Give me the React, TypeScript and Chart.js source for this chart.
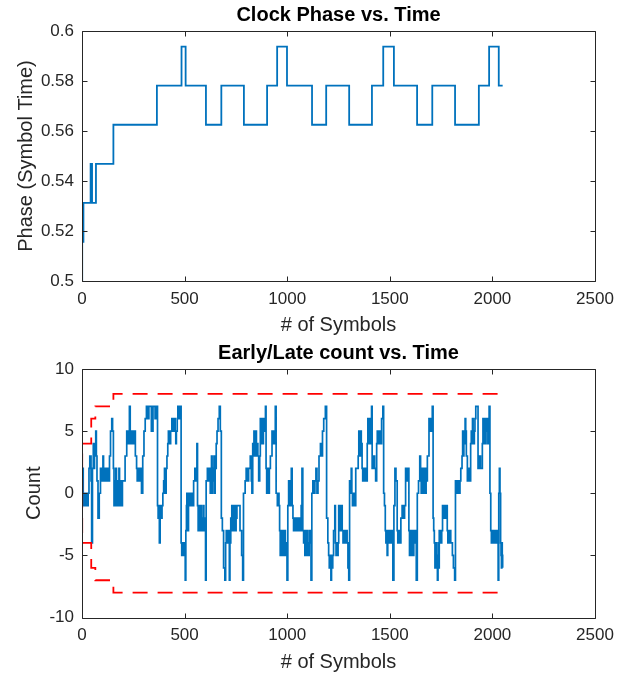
import React, { useEffect, useRef } from "react";
import { Chart, registerables } from "chart.js";

Chart.register(...registerables);

const FONT = '"Liberation Sans", Arial, Helvetica, sans-serif';
const AXIS_COLOR = "#262626";
const LINE_BLUE = "#0072BD";
const LIMIT_RED = "#FF0000";

// ---- tick values ----
const xTickValues = [0, 500, 1000, 1500, 2000, 2500];
const phaseTickValues = [0.5, 0.52, 0.54, 0.56, 0.58, 0.6];
const countTickValues = [-10, -5, 0, 5, 10];

// ---- titles ----
const phaseTitle = "Clock Phase vs. Time";
const countTitle = "Early/Late count vs. Time";
const xLabel = "# of Symbols";
const phaseLabel = "Phase (Symbol Time)";
const countLabel = "Count";

// ---- phase (symbol time): [symbol, phase] step points ----
const phaseSteps: [number, number][] = [
  [0, 0.5], [1, 0.515625], [3, 0.53125], [5, 0.515625], [7, 0.53125],
  [42, 0.546875], [49, 0.53125], [68, 0.546875], [153, 0.5625],
  [365, 0.578125], [485, 0.59375], [505, 0.578125], [604, 0.5625],
  [679, 0.578125], [789, 0.5625], [902, 0.578125], [951, 0.59375],
  [999, 0.578125], [1121, 0.5625], [1190, 0.578125], [1302, 0.5625],
  [1413, 0.578125], [1468, 0.59375], [1520, 0.578125], [1633, 0.5625],
  [1707, 0.578125], [1818, 0.5625], [1934, 0.578125], [1984, 0.59375],
  [2031, 0.578125], [2050, 0.578125],
];

// ---- early/late count: [symbol, count] step points ----
const countSteps: [number, number][] = [
  [0, 0], [3, 2], [6, 0], [9, -1], [12, 0], [15, -1], [18, 0], [21, -1], [24, 0], [27, -1],
  [30, 0], [34, 2], [38, 3], [44, 1], [47, -4], [51, 2], [55, 4], [58, 2], [61, 4], [64, 3],
  [67, 5], [70, 3], [73, 1], [78, -2], [84, 0], [90, 2], [93, 1], [96, 2], [99, 1], [102, 3],
  [105, 1], [108, 2], [111, 1], [116, 2], [120, 1], [124, 2], [128, 1], [134, 3], [139, 5],
  [145, 6], [149, 5], [153, 2], [156, -1], [159, 1], [162, -1], [165, 2], [168, 0], [171, -1],
  [174, 1], [177, -1], [180, 2], [183, 0], [186, -1], [189, 1], [193, -1], [197, 1], [210, 3],
  [218, 5], [221, 4], [224, 5], [227, 4], [231, 7], [235, 4], [238, 5], [241, 4], [244, 5],
  [247, 4], [250, 5], [253, 4], [256, 5], [260, 3], [266, 2], [269, 1], [272, 2], [275, 1],
  [278, 2], [281, 1], [285, 2], [290, 0], [296, 3], [302, 5], [308, 6], [314, 7], [320, 6],
  [326, 7], [338, 5], [346, 7], [356, 6], [362, 7], [368, -1], [371, -2], [374, -1], [377, -4],
  [381, -2], [384, -1], [387, -2], [390, -1], [394, 0], [398, 1], [402, 2], [406, 0], [410, 2],
  [414, 3], [418, 4], [421, 5], [426, 4], [432, 5], [438, 6], [441, 5], [444, 6], [447, 5],
  [450, 6], [454, 5], [457, 4], [460, 5], [464, 6], [467, 7], [470, 6], [473, 7], [476, 6],
  [479, 7], [483, -4], [486, -5], [489, -4], [492, -5], [495, -4], [498, -5], [503, -7],
  [506, -3], [509, -1], [511, 0], [514, -2], [517, -3], [519, 0], [522, -1], [525, 0], [528, -1],
  [531, 0], [534, -1], [537, 0], [540, -1], [544, 1], [550, 2], [556, 1], [560, 4], [563, -1],
  [566, -3], [569, -1], [572, -2], [575, -3], [578, -1], [581, -3], [584, -2], [587, -3],
  [590, -1], [594, -3], [598, -2], [602, -7], [605, 1], [611, 2], [617, 1], [622, 2], [625, 0],
  [628, 2], [631, 3], [634, 0], [637, 2], [640, 1], [643, 3], [646, 0], [649, 2], [654, 4],
  [658, 5], [663, 6], [669, 7], [674, 5], [679, -2], [684, -3], [690, -6], [696, -7], [700, -4],
  [703, -3], [706, -4], [709, -3], [712, -4], [715, -3], [718, -7], [721, -4], [725, -2],
  [730, -1], [733, -3], [736, -1], [739, -2], [742, -3], [745, -1], [748, -3], [751, -2],
  [755, -1], [770, -3], [778, -5], [783, -7], [787, 0], [795, 1], [800, 2], [806, 1], [812, 2],
  [820, 3], [825, 1], [828, 0], [832, 4], [835, 3], [838, 5], [841, 3], [844, 4], [847, 5],
  [850, 3], [853, 4], [857, 3], [861, 1], [866, 3], [869, 6], [872, 4], [875, 5], [878, 6],
  [881, 4], [884, 6], [887, 5], [890, 6], [894, 7], [897, 2], [900, 0], [903, 2], [906, 1],
  [909, 0], [913, 2], [918, 3], [926, 5], [929, 4], [932, 5], [935, 4], [938, 5], [942, 7],
  [946, 0], [952, -1], [956, 0], [960, -1], [963, -3], [966, -5], [969, -3], [972, -4],
  [975, -5], [978, -3], [981, -5], [984, -4], [987, -3], [991, -5], [995, -4], [999, -7],
  [1003, -1], [1007, 1], [1012, -1], [1016, 0], [1020, 2], [1024, -1], [1028, -2], [1031, -3],
  [1034, -2], [1037, -3], [1040, -2], [1043, -3], [1046, -2], [1049, -3], [1052, -2],
  [1055, -3], [1058, -2], [1062, -3], [1068, -1], [1072, 2], [1076, -3], [1080, -4],
  [1083, -3], [1086, -5], [1089, -3], [1092, -4], [1095, -5], [1098, -3], [1101, -4],
  [1104, -5], [1107, -4], [1110, -3], [1116, -7], [1120, 0], [1125, 1], [1130, 0], [1135, 1],
  [1140, 2], [1145, 0], [1150, 1], [1155, 3], [1162, 4], [1168, 3], [1172, 5], [1178, 6],
  [1186, 7], [1192, -2], [1198, -4], [1202, -5], [1205, -6], [1208, -5], [1211, -6],
  [1213, -7], [1216, -5], [1219, -6], [1222, -5], [1226, -3], [1232, -1], [1235, -4],
  [1238, -5], [1241, -4], [1244, -5], [1248, -4], [1251, -1], [1254, -3], [1257, -1],
  [1260, -2], [1263, -3], [1266, -1], [1268, -3], [1272, -4], [1275, -3], [1278, -4],
  [1281, -3], [1284, -4], [1287, -3], [1292, -4], [1296, -6], [1300, -7], [1304, 1],
  [1308, 0], [1312, 2], [1315, 0], [1318, -1], [1321, 0], [1324, -1], [1327, 0], [1330, -1],
  [1334, 2], [1346, 3], [1349, 5], [1352, 4], [1355, 3], [1358, 5], [1361, 4], [1365, 2],
  [1368, 1], [1371, 2], [1374, 1], [1377, 2], [1380, 1], [1383, 2], [1387, 1], [1390, 4],
  [1393, 6], [1396, 4], [1399, 5], [1402, 6], [1405, 4], [1408, 6], [1411, 7], [1414, 2],
  [1420, 3], [1426, 2], [1431, 1], [1436, 4], [1439, 5], [1442, 4], [1445, 5], [1448, 4],
  [1451, 5], [1455, 4], [1460, 6], [1466, 7], [1470, 0], [1474, -1], [1478, -3], [1481, -4],
  [1484, -3], [1487, -5], [1490, -4], [1493, -3], [1496, -4], [1499, -3], [1502, -4],
  [1505, -3], [1508, -4], [1512, -3], [1515, -7], [1520, -1], [1525, 2], [1530, 1],
  [1536, -3], [1539, -4], [1542, -3], [1545, -4], [1548, -3], [1551, -4], [1554, -2],
  [1560, -1], [1566, -2], [1572, -1], [1577, 2], [1583, 1], [1588, 2], [1593, -3], [1596, -5],
  [1599, -3], [1602, -4], [1605, -5], [1608, -3], [1611, -4], [1614, -5], [1617, -3],
  [1620, -4], [1623, -3], [1629, -7], [1634, 0], [1640, 1], [1646, 3], [1650, 2], [1653, 0],
  [1656, 2], [1659, 0], [1662, 1], [1665, 2], [1668, 0], [1671, 2], [1674, 0], [1677, 2],
  [1680, 1], [1683, 3], [1691, 6], [1694, 5], [1697, 6], [1700, 5], [1703, 6], [1707, 7],
  [1711, -2], [1714, -3], [1717, -4], [1720, -6], [1723, -4], [1726, -5], [1729, -6],
  [1732, -7], [1735, -4], [1738, -6], [1741, -3], [1744, -4], [1747, -3], [1750, -4],
  [1753, -3], [1757, -1], [1762, -2], [1767, -1], [1772, -2], [1776, -1], [1780, -3],
  [1783, -4], [1786, -3], [1789, -4], [1792, -3], [1797, -4], [1805, -5], [1810, -6],
  [1816, -7], [1820, 1], [1826, 0], [1832, 1], [1838, 0], [1842, 1], [1846, 2], [1852, 3],
  [1855, 5], [1858, 3], [1861, 5], [1864, 4], [1867, 6], [1870, 5], [1873, 3], [1878, 1],
  [1884, 2], [1890, 1], [1894, 4], [1897, 5], [1900, 4], [1903, 6], [1906, 5], [1909, 4],
  [1912, 5], [1915, 6], [1919, 7], [1930, 2], [1936, 3], [1942, 2], [1951, 4], [1954, 6],
  [1957, 4], [1960, 5], [1963, 6], [1966, 4], [1969, 6], [1972, 5], [1975, 6], [1978, 4],
  [1981, 6], [1984, 7], [1988, 0], [1992, -3], [1995, -4], [1998, -3], [2001, -4], [2004, -3],
  [2007, -4], [2010, -3], [2013, -4], [2016, -3], [2020, -4], [2025, -3], [2028, -7],
  [2031, 0], [2034, 2], [2037, 0], [2040, -4], [2042, -5], [2044, -6], [2046, -4], [2048, -5],
  [2050, -6],
];

// ---- early/late thresholds: [symbol, limit] step points ----
const upperLimitSteps: [number, number][] = [
  [0, 0], [1, 4], [45, 6], [65, 7], [153, 8], [2050, 8],
];
const lowerLimitSteps: [number, number][] = [
  [0, 0], [1, -4], [45, -6], [65, -7], [153, -8], [2050, -8],
];

const toPoints = (arr: [number, number][]) => arr.map(([x, y]) => ({ x, y }));

const boxPlugin = {
  id: "matlabBox",
  afterDatasetsDraw(chart: any) {
    const { ctx, chartArea: a, scales } = chart;
    const L = Math.round(a.left) + 0.5;
    const R = Math.round(a.right) + 0.5;
    const T = Math.round(a.top) + 0.5;
    const B = Math.round(a.bottom) + 0.5;
    const len = 5;
    ctx.save();
    ctx.strokeStyle = AXIS_COLOR;
    ctx.lineWidth = 1;
    ctx.beginPath();
    ctx.rect(L, T, R - L, B - T);
    const xs = scales.x;
    xs.ticks.forEach((t: any) => {
      const px = Math.round(xs.getPixelForValue(t.value)) + 0.5;
      ctx.moveTo(px, B);
      ctx.lineTo(px, B - len);
      ctx.moveTo(px, T);
      ctx.lineTo(px, T + len);
    });
    const ys = scales.y;
    ys.ticks.forEach((t: any) => {
      const py = Math.round(ys.getPixelForValue(t.value)) + 0.5;
      ctx.moveTo(L, py);
      ctx.lineTo(L + len, py);
      ctx.moveTo(R, py);
      ctx.lineTo(R - len, py);
    });
    ctx.stroke();
    ctx.restore();
  },
};

function makeConfig(opts: {
  title: string;
  yLabel: string;
  yMin: number;
  yMax: number;
  yTicks: number[];
  yTitlePad: number;
  xAxisHeight: number;
  xTitlePad: number;
  datasets: any[];
}) {
  return {
    type: "line",
    data: { datasets: opts.datasets },
    plugins: [boxPlugin],
    options: {
      responsive: false,
      animation: false,
      events: [],
      layout: { padding: { top: 0, left: 0, right: 36, bottom: 0 } },
      elements: { point: { radius: 0 } },
      plugins: {
        legend: { display: false },
        tooltip: { enabled: false },
        title: {
          display: true,
          fullSize: false,
          text: opts.title,
          color: "#000000",
          font: { family: FONT, size: 20, weight: "bold", lineHeight: 1 },
          padding: { top: 5, bottom: 6 },
        },
      },
      scales: {
        x: {
          type: "linear",
          min: 0,
          max: 2500,
          grid: { display: false, drawTicks: false, tickLength: 0 },
          border: { display: false },
          afterBuildTicks: (s: any) => {
            s.ticks = xTickValues.map((v) => ({ value: v }));
          },
          afterFit: (s: any) => {
            s.height = opts.xAxisHeight;
          },
          ticks: {
            color: AXIS_COLOR,
            padding: 8,
            maxRotation: 0,
            font: { family: FONT, size: 17 },
            callback: (v: any) => String(v),
          },
          title: {
            display: true,
            text: xLabel,
            color: AXIS_COLOR,
            font: { family: FONT, size: 20, lineHeight: 1 },
            padding: { top: 0, bottom: opts.xTitlePad },
          },
        },
        y: {
          type: "linear",
          min: opts.yMin,
          max: opts.yMax,
          grid: { display: false, drawTicks: false, tickLength: 0 },
          border: { display: false },
          afterBuildTicks: (s: any) => {
            s.ticks = opts.yTicks.map((v) => ({ value: v }));
          },
          afterFit: (s: any) => {
            s.width = 82;
          },
          ticks: {
            color: AXIS_COLOR,
            padding: 8,
            font: { family: FONT, size: 17 },
            callback: (v: any) => String(Math.round(v * 1000) / 1000),
          },
          title: {
            display: true,
            text: opts.yLabel,
            color: AXIS_COLOR,
            font: { family: FONT, size: 20, lineHeight: 1 },
            padding: { top: opts.yTitlePad, bottom: 0 },
          },
        },
      },
    },
  };
}

function Plot({ top, height, config }: { top: number; height: number; config: any }) {
  const ref = useRef<HTMLCanvasElement | null>(null);
  useEffect(() => {
    if (!ref.current) return;
    const chart = new Chart(ref.current, config);
    return () => chart.destroy();
  }, []);
  return (
    <canvas
      ref={ref}
      width={631}
      height={height}
      style={{ position: "absolute", left: 0, top, width: 631, height }}
    />
  );
}

export default function App() {
  const phaseConfig = makeConfig({
    title: phaseTitle,
    yLabel: phaseLabel,
    yMin: 0.5,
    yMax: 0.6,
    yTicks: phaseTickValues,
    yTitlePad: 16,
    xAxisHeight: 57,
    xTitlePad: 3,
    datasets: [
      {
        data: toPoints(phaseSteps),
        borderColor: LINE_BLUE,
        borderWidth: 1.8,
        stepped: true,
        pointRadius: 0,
        fill: false,
      },
    ],
  });
  const countConfig = makeConfig({
    title: countTitle,
    yLabel: countLabel,
    yMin: -10,
    yMax: 10,
    yTicks: countTickValues,
    yTitlePad: 24,
    xAxisHeight: 59.5,
    xTitlePad: 5,
    datasets: [
      {
        data: toPoints(upperLimitSteps),
        borderColor: LIMIT_RED,
        borderWidth: 1.8,
        borderDash: [15, 10],
        stepped: true,
        pointRadius: 0,
        fill: false,
        order: 0,
      },
      {
        data: toPoints(lowerLimitSteps),
        borderColor: LIMIT_RED,
        borderWidth: 1.8,
        borderDash: [15, 10],
        stepped: true,
        pointRadius: 0,
        fill: false,
        order: 0,
      },
      {
        data: toPoints(countSteps),
        borderColor: LINE_BLUE,
        borderWidth: 1.7,
        stepped: true,
        pointRadius: 0,
        fill: false,
        order: 1,
      },
    ],
  });
  return (
    <div style={{ position: "absolute", left: 0, top: 0, width: 631, height: 677, background: "#ffffff" }}>
      <Plot top={0} height={338} config={phaseConfig} />
      <Plot top={338} height={339} config={countConfig} />
    </div>
  );
}
